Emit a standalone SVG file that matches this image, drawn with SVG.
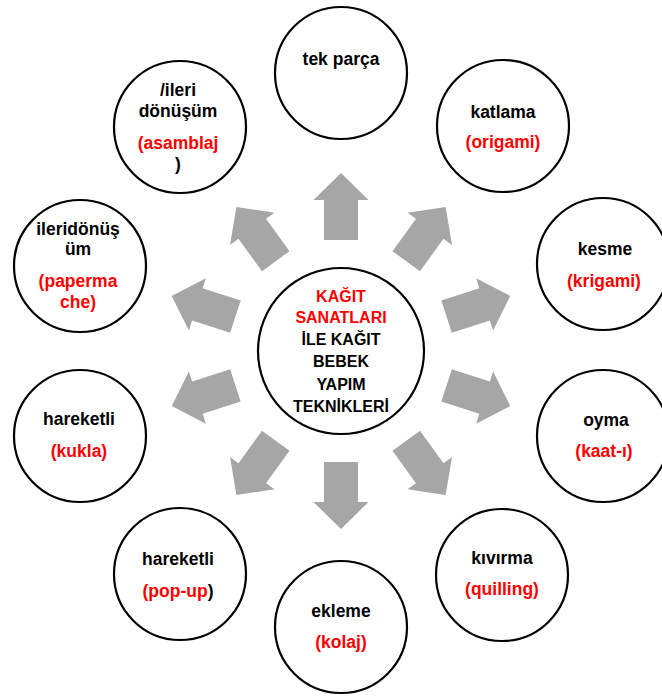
<svg xmlns="http://www.w3.org/2000/svg" xmlns:xlink="http://www.w3.org/1999/xlink" width="662" height="698" viewBox="0 0 662 698">
<style>
.n{fill:#fff;stroke:#000;stroke-width:2.2}
text{font-family:"Liberation Sans",Arial,sans-serif;font-weight:bold;font-size:17.5px;text-anchor:middle;fill:#000}
.c{font-size:16px}
.r{fill:#ff0000}
.a{fill:#a6a6a6}
</style>
<defs>
<path id="arr" class="a" d="M111,-17 L151,-17 L151,-27.5 L178,0 L151,27.5 L151,17 L111,17 Z"/>
</defs>
<rect width="662" height="698" fill="#fff"/>
<g id="connectors">
<use xlink:href="#arr" href="#arr" transform="translate(341,351) rotate(-90)"/>
<use xlink:href="#arr" href="#arr" transform="translate(341,351) rotate(-54)"/>
<use xlink:href="#arr" href="#arr" transform="translate(341,351) rotate(-18)"/>
<use xlink:href="#arr" href="#arr" transform="translate(341,351) rotate(18)"/>
<use xlink:href="#arr" href="#arr" transform="translate(341,351) rotate(54)"/>
<use xlink:href="#arr" href="#arr" transform="translate(341,351) rotate(90)"/>
<use xlink:href="#arr" href="#arr" transform="translate(341,351) rotate(126)"/>
<use xlink:href="#arr" href="#arr" transform="translate(341,351) rotate(162)"/>
<use xlink:href="#arr" href="#arr" transform="translate(341,351) rotate(198)"/>
<use xlink:href="#arr" href="#arr" transform="translate(341,351) rotate(234)"/>
</g>
<g id="center">
<circle class="n" cx="341" cy="351" r="83"/>
<text class="c r" x="341" y="302">KAĞIT</text>
<text class="c r" x="341" y="323">SANATLARI</text>
<text class="c" x="341" y="345">İLE KAĞIT</text>
<text class="c" x="341" y="367">BEBEK</text>
<text class="c" x="341" y="390">YAPIM</text>
<text class="c" x="341" y="412">TEKNİKLERİ</text>
</g>
<g id="tek-parca">
<circle class="n" cx="341" cy="73" r="66"/>
<text x="341" y="65">tek parça</text>
</g>
<g id="katlama">
<circle class="n" cx="503" cy="126" r="66"/>
<text x="503" y="118">katlama</text>
<text class="r" x="503" y="148">(origami)</text>
</g>
<g id="kesme">
<circle class="n" cx="603" cy="264" r="66"/>
<text x="605" y="255">kesme</text>
<text class="r" x="604" y="287">(krigami)</text>
</g>
<g id="oyma">
<circle class="n" cx="603" cy="436" r="66"/>
<text x="606" y="426">oyma</text>
<text class="r" x="604" y="457">(kaat-ı)</text>
</g>
<g id="kivirma">
<circle class="n" cx="502" cy="575" r="66"/>
<text x="502" y="564">kıvırma</text>
<text class="r" x="502" y="595">(quilling)</text>
</g>
<g id="ekleme">
<circle class="n" cx="341" cy="627" r="66"/>
<text x="341" y="617">ekleme</text>
<text class="r" x="341" y="648">(kolaj)</text>
</g>
<g id="hareketli-popup">
<circle class="n" cx="180" cy="574" r="66"/>
<text x="178" y="565">hareketli</text>
<text x="178" y="597"><tspan class="r">(pop-up</tspan>)</text>
</g>
<g id="hareketli-kukla">
<circle class="n" cx="80" cy="436" r="66"/>
<text x="79" y="425">hareketli</text>
<text class="r" x="79" y="457">(kukla)</text>
</g>
<g id="ileridonusum">
<circle class="n" cx="80" cy="266" r="66"/>
<text x="78" y="235">ileridönüş</text>
<text x="78" y="255">üm</text>
<text class="r" x="78" y="287">(paperma</text>
<text class="r" x="78" y="308">che)</text>
</g>
<g id="ileri-donusum">
<circle class="n" cx="180" cy="127" r="66"/>
<text x="178" y="96">/ileri</text>
<text x="178" y="117">dönüşüm</text>
<text class="r" x="178" y="149">(asamblaj</text>
<text x="178" y="170">)</text>
</g>
</svg>
